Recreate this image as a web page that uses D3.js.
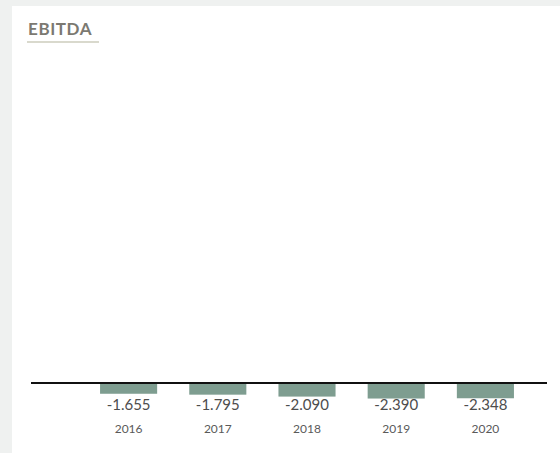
<!DOCTYPE html>
<html><head><meta charset="utf-8">
<script src="https://cdn.jsdelivr.net/npm/d3@7"></script>
<style>
html,body{margin:0;padding:0;background:#eff1f0;}
svg{display:block;}
</style></head>
<body>
<svg id="chart" width="560" height="453"></svg>
<script>
const years = ["2016","2017","2018","2019","2020"];
const ebitda = [-1655, -1795, -2090, -2390, -2348];
const title = "EBITDA";

const svg = d3.select("#chart");
svg.append("rect").attr("x",0).attr("y",0).attr("width",560).attr("height",453).attr("fill","#eff1f0");
svg.append("rect").attr("x",12).attr("y",6).attr("width",548).attr("height",447).attr("fill","#ffffff");

svg.append("text").attr("x",28).attr("y",34.5).text(title)
  .attr("font-family","Lato, 'Open Sans', sans-serif").attr("font-weight","bold")
  .attr("font-size",17).attr("letter-spacing",0.6).attr("fill","#7b7971");
svg.append("rect").attr("x",27).attr("y",41).attr("width",72).attr("height",2).attr("fill","#d9d9cd");

const x = d3.scaleBand().domain(years).range([84,530]).paddingInner(0.36).paddingOuter(0.18);
const y = d3.scaleLinear().domain([-10000, 0]).range([448, 383]);

const loc = d3.formatLocale({decimal:",", thousands:".", grouping:[3], currency:["","€"], minus:"-"});
const fmt = loc.format(",.0f");

const data = years.map((yr,i)=>({year:yr, v:ebitda[i]}));

svg.append("g").selectAll("rect").data(data).join("rect")
  .attr("x", d=>x(d.year)).attr("width", x.bandwidth())
  .attr("y", y(0)).attr("height", d=>y(d.v)-y(0))
  .attr("fill","#7e9d90");

svg.append("line").attr("x1",31).attr("x2",547).attr("y1",y(0)).attr("y2",y(0))
  .attr("stroke","#111").attr("stroke-width",2);

svg.append("g").selectAll("text").data(data).join("text")
  .attr("x", d=>x(d.year)+x.bandwidth()/2).attr("y", 410)
  .attr("text-anchor","middle").attr("font-family","Lato, sans-serif")
  .attr("font-size",15).attr("fill","#4d4d4d").text(d=>fmt(d.v));

svg.append("g").selectAll("text").data(data).join("text")
  .attr("x", d=>x(d.year)+x.bandwidth()/2).attr("y", 432.5)
  .attr("text-anchor","middle").attr("font-family","Lato, sans-serif")
  .attr("font-size",12).attr("fill","#5a5a5a").text(d=>d.year);
</script>
</body></html>
